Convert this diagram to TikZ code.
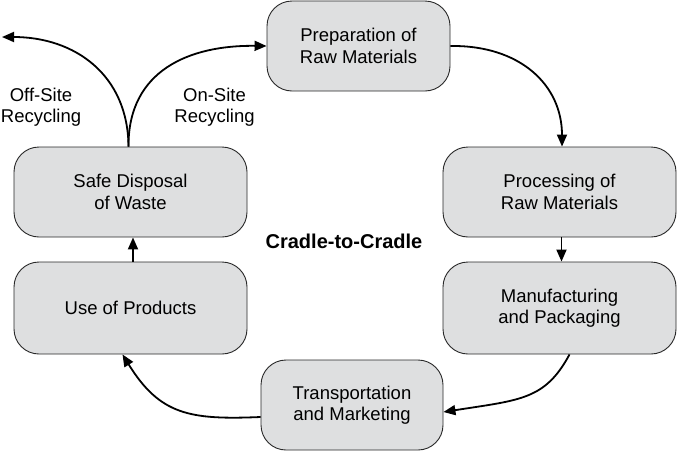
\documentclass[tikz,border=0pt]{standalone}
\usepackage{fontspec}
\setmainfont{Liberation Sans}
\usetikzlibrary{arrows.meta}
\definecolor{boxfill}{RGB}{222,223,224}
\definecolor{boxline}{RGB}{40,40,40}
\begin{document}
\begin{tikzpicture}[x=1pt,y=-1pt,
  stagebox/.style={draw=boxline,line width=0.9pt,fill=boxfill,rounded corners=25pt,
    align=center,inner sep=0pt,font=\fontsize{18.5}{21.5}\selectfont},
  flow/.style={line width=1.8pt,-{Triangle[length=12pt,width=10pt]}},
  lbl/.style={align=center,font=\fontsize{18.5}{21.5}\selectfont}]
\useasboundingbox (0,0) rectangle (677,453);
\node[stagebox,minimum width=183pt,minimum height=90pt] (prep) at (358.5,46) {Preparation of\\Raw Materials};
\node[stagebox,minimum width=233pt,minimum height=90pt] (proc) at (559.5,192) {Processing of\\Raw Materials};
\node[stagebox,minimum width=233pt,minimum height=92pt] (manu) at (559.5,308) {Manufacturing\\and Packaging};
\node[stagebox,minimum width=182pt,minimum height=90pt] (trans) at (352,405) {Transportation\\and Marketing};
\node[stagebox,minimum width=233pt,minimum height=92pt] (use) at (130.5,308) {Use of Products};
\node[stagebox,minimum width=233pt,minimum height=90pt] (safe) at (130.5,192) {Safe Disposal\\of Waste};
\coordinate (off) at (2,37);
\node[lbl] (offl) at (41,107) {Off-Site\\Recycling};
\node[lbl] (onl) at (214.5,107) {On-Site\\Recycling};
\node[font=\bfseries\fontsize{20}{24}\selectfont] (title) at (344,241) {Cradle-to-Cradle};
\draw[flow] ([xshift=-2pt]safe.north) .. controls (128,75) and (75,37) .. (off);
\draw[flow] ([xshift=-2pt]safe.north) .. controls (128,70) and (190,45) .. (prep.west);
\draw[flow] (prep.east) .. controls (520,45) and (562,85) .. ([xshift=2.5pt]proc.north);
\draw[flow] ([xshift=2pt]proc.south) -- ([xshift=2pt]manu.north);
\draw[flow] ([xshift=10pt]manu.south) .. controls (545,400) and (520,400) .. ([yshift=-7pt]trans.east);
\draw[flow] ([yshift=-12pt]trans.west) .. controls (190,420) and (160,415) .. ([xshift=-8pt]use.south);
\draw[flow] ([xshift=2.5pt]use.north) -- ([xshift=2.5pt]safe.south);
\end{tikzpicture}
\end{document}
